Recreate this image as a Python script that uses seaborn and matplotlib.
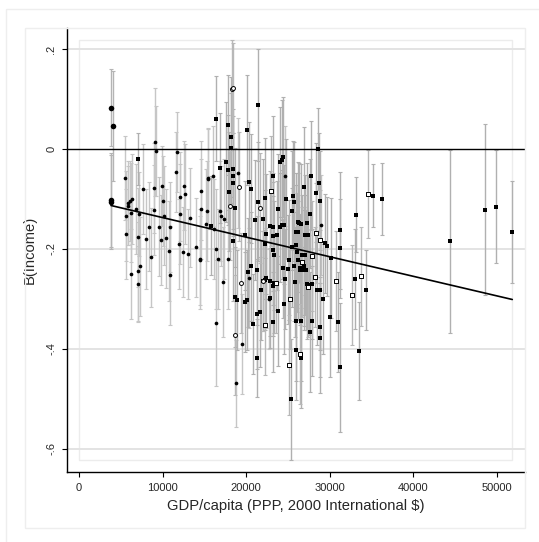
import numpy as np
import pandas as pd
import matplotlib
matplotlib.use("Agg")
import matplotlib.pyplot as plt
import matplotlib.patches as mpatches
import seaborn as sns

# small filled dots: gdp, coefficient, half-width of interval
dot_gdp = [5500, 5580, 5620, 5920, 5920, 6100, 6380, 6180, 6820, 7020, 7180, 7620, 7980, 8330,
           8930, 9130, 9170, 8970, 9570, 9850, 9930, 10090, 10200, 10440, 10920, 11560, 11760,
           12080, 12050, 11920, 12600, 12740, 12480, 13000, 13320, 14030, 14510, 14630, 14630,
           15190, 15310, 15430, 16030, 16190, 16390, 16600, 16870, 17030, 17300, 19060, 6180,
           7020, 7020, 7340, 8570, 10920, 10770, 14470, 15390, 16350, 17220, 17820, 18740,
           19530, 20370, 22760, 24640, 28950]
dot_b = [-0.057, -0.170, -0.134, -0.108, -0.113, -0.104, -0.100, -0.127, -0.120, -0.177, -0.130,
         -0.080, -0.180, -0.155, -0.122, 0.014, -0.003, -0.078, -0.155, -0.182, -0.073, -0.104,
         -0.133, -0.179, -0.156, -0.046, -0.005, -0.095, -0.130, -0.190, -0.073, -0.090, -0.206,
         -0.210, -0.137, -0.197, -0.220, -0.083, -0.120, -0.150, -0.124, -0.060, -0.053, -0.160,
         -0.200, -0.220, -0.124, -0.134, -0.140, -0.048, -0.250, -0.245, -0.270, -0.235, -0.217,
         -0.253, -0.204, -0.223, -0.057, -0.349, -0.267, -0.221, -0.469, -0.390, -0.259, -0.300,
         -0.053, -0.152]
dot_ci = [0.084, 0.090, 0.090, 0.085, 0.080, 0.080, 0.090, 0.100, 0.090, 0.100, 0.085, 0.090,
          0.100, 0.090, 0.090, 0.108, 0.090, 0.090, 0.100, 0.090, 0.080, 0.090, 0.100, 0.100,
          0.090, 0.080, 0.080, 0.090, 0.100, 0.090, 0.090, 0.100, 0.090, 0.090, 0.100, 0.100,
          0.100, 0.100, 0.100, 0.110, 0.100, 0.100, 0.100, 0.100, 0.120, 0.100, 0.100, 0.100,
          0.120, 0.110, 0.090, 0.100, 0.076, 0.100, 0.100, 0.100, 0.100, 0.090, 0.100, 0.126,
          0.110, 0.100, 0.087, 0.100, 0.100, 0.100, 0.100, 0.100]

# larger filled dots (poorest countries)
big_gdp = [3830, 4030, 3830, 3830]
big_b = [0.083, 0.046, -0.102, -0.106]
big_ci = [0.077, 0.110, 0.095, 0.095]

# filled squares
sq_gdp = [7060, 16390, 15790, 16870, 17540, 17820, 17860, 17900, 18140, 18140, 18420, 18460,
          18420, 18660, 18380, 20130, 20300, 20570, 21410, 21410, 22250, 22050, 22330, 21050,
          19820, 28590, 28750, 28790, 28350, 27710, 26910, 24440, 24240, 24000, 23170, 24720,
          25720, 25600, 25440, 23760, 26320, 27230, 27590, 27070, 27430, 29390, 29700, 30140,
          31260, 31180, 33170, 35210, 36280, 44420, 48530, 49840, 51830, 23210, 23800, 24560,
          25960, 26560, 27830, 28790, 28790, 30060, 30980, 25960, 26590, 25320, 31220, 33530,
          33050, 34290, 28830, 29220, 27230, 27830, 23170, 20220, 20770, 21250, 21650, 21250,
          21730, 22290, 18700, 18900, 19860, 20100, 20530, 21290, 22050, 22350, 23290, 22880,
          23330, 23170, 22250, 24400, 24600, 25990, 26240, 25520, 25960, 26110, 26630, 27030,
          25120, 26150, 25680, 26870, 26470, 25040, 27510, 22810, 24240, 24480, 24080, 23240,
          23680, 26200, 26560, 26440, 26910, 27150, 28430, 25880, 27630, 23210, 22810]
sq_b = [-0.020, 0.061, -0.153, -0.037, -0.026, -0.041, 0.048, -0.085, 0.025, 0.003, -0.040,
        -0.054, -0.068, -0.117, -0.185, 0.038, -0.066, -0.079, 0.088, -0.105, -0.098, -0.140,
        -0.170, -0.142, -0.173, 0.000, -0.067, -0.103, -0.087, -0.053, -0.076, -0.015, -0.021,
        -0.025, -0.053, -0.100, -0.105, -0.093, -0.123, -0.120, -0.147, -0.148, -0.129, -0.172,
        -0.172, -0.189, -0.195, -0.218, -0.163, -0.199, -0.131, -0.093, -0.100, -0.185, -0.121,
        -0.115, -0.166, -0.347, -0.325, -0.311, -0.344, -0.344, -0.345, -0.357, -0.378, -0.337,
        -0.347, -0.403, -0.419, -0.501, -0.437, -0.405, -0.260, -0.282, -0.282, -0.300, -0.270,
        -0.270, -0.275, -0.247, -0.351, -0.330, -0.326, -0.419, -0.282, -0.262, -0.297, -0.302,
        -0.306, -0.303, -0.235, -0.243, -0.265, -0.259, -0.268, -0.299, -0.213, -0.203, -0.191,
        -0.239, -0.260, -0.167, -0.167, -0.197, -0.192, -0.207, -0.212, -0.212, -0.222, -0.223,
        -0.235, -0.235, -0.242, -0.241, -0.273, -0.154, -0.151, -0.151, -0.157, -0.175, -0.173,
        -0.146, -0.149, -0.239, -0.242, -0.242, -0.283, -0.267, -0.367, -0.157, -0.264]
sq_ci = [0.052, 0.085, 0.100, 0.110, 0.120, 0.110, 0.100, 0.120, 0.120, 0.110, 0.120, 0.120,
         0.100, 0.120, 0.120, 0.110, 0.120, 0.110, 0.112, 0.120, 0.120, 0.120, 0.120, 0.120,
         0.110, 0.082, 0.100, 0.100, 0.100, 0.110, 0.120, 0.120, 0.120, 0.110, 0.120, 0.120,
         0.120, 0.110, 0.120, 0.110, 0.120, 0.120, 0.110, 0.120, 0.120, 0.100, 0.100, 0.120,
         0.118, 0.100, 0.076, 0.064, 0.072, 0.184, 0.172, 0.113, 0.103, 0.100, 0.110, 0.100,
         0.120, 0.120, 0.110, 0.100, 0.110, 0.120, 0.100, 0.100, 0.100, 0.121, 0.129, 0.098,
         0.100, 0.080, 0.120, 0.110, 0.110, 0.110, 0.100, 0.110, 0.100, 0.110, 0.110, 0.078,
         0.100, 0.100, 0.100, 0.100, 0.100, 0.100, 0.110, 0.110, 0.100, 0.100, 0.100, 0.100,
         0.110, 0.110, 0.110, 0.100, 0.100, 0.120, 0.120, 0.120, 0.120, 0.120, 0.120, 0.120,
         0.120, 0.120, 0.110, 0.120, 0.110, 0.110, 0.100, 0.110, 0.110, 0.120, 0.110, 0.110,
         0.110, 0.120, 0.120, 0.110, 0.120, 0.120, 0.110, 0.110, 0.120, 0.110, 0.110]

# hollow squares
hsq_gdp = [23000, 28350, 28790, 34530, 32620, 33730, 30700, 23600, 25280, 26440, 25160, 22250,
           27870, 28270, 26710, 27350]
hsq_b = [-0.084, -0.168, -0.182, -0.090, -0.293, -0.255, -0.265, -0.268, -0.300, -0.410,
         -0.433, -0.353, -0.214, -0.257, -0.226, -0.277]
hsq_ci = [0.110, 0.100, 0.100, 0.088, 0.100, 0.100, 0.100, 0.100, 0.100, 0.100, 0.100, 0.100,
          0.110, 0.100, 0.110, 0.100]

# small hollow circles
hc_gdp = [18360, 18420, 18030, 19100, 21660, 19340, 18620, 21970]
hc_b = [0.121, 0.123, -0.113, -0.075, -0.118, -0.269, -0.373, -0.265]
hc_ci = [0.097, 0.090, 0.110, 0.110, 0.110, 0.100, 0.120, 0.100]

# fitted line end points
fit_gdp = [3830, 51830]
fit_b = [-0.113, -0.301]

yticks = [-0.6, -0.4, -0.2, 0, 0.2]
ytick_labels = ["-.6", "-.4", "-.2", "0", ".2"]
xticks = [0, 10000, 20000, 30000, 40000, 50000]

sns.set_style("white")
plt.rcParams['font.family'] = ['Liberation Sans', 'DejaVu Sans']

fig = plt.figure(figsize=(5.39, 5.42), dpi=100)
ax = fig.add_axes([0.1243, 0.1292, 0.8497, 0.8191])

groups = [
    (dot_gdp, dot_b, dot_ci, '#c6c6c6'),
    (big_gdp, big_b, big_ci, '#b4b4b4'),
    (sq_gdp, sq_b, sq_ci, '#b0b0b0'),
    (hsq_gdp, hsq_b, hsq_ci, '#b8b8b8'),
    (hc_gdp, hc_b, hc_ci, '#b8b8b8'),
]
all_lo, all_hi, all_x = [], [], []
for gx, gb, gc, col in groups:
    gb = np.array(gb)
    gc = np.array(gc)
    ax.errorbar(gx, gb, yerr=gc, fmt='none', ecolor=col, elinewidth=1.0,
                capsize=1.6, capthick=0.8, zorder=2)
    all_lo.extend(gb - gc)
    all_hi.extend(gb + gc)
    all_x.extend(gx)

# plot region frame
x0, x1 = 0, max(all_x)
y0, y1 = min(all_lo), max(all_hi)
ax.add_patch(mpatches.Rectangle((x0, y0), x1 - x0, y1 - y0, fill=False,
                                edgecolor='#ececec', lw=1.0, zorder=0))

for yv in yticks:
    if yv != 0:
        ax.axhline(yv, color='#e3e3e3', lw=1.4, zorder=0.5)
ax.axhline(0, color='black', lw=1.0, zorder=3)

sns.scatterplot(x=dot_gdp, y=dot_b, ax=ax, marker='o', s=7, color='black',
                edgecolor='black', linewidth=0, zorder=4)
sns.scatterplot(x=big_gdp, y=big_b, ax=ax, marker='o', s=16, color='black',
                edgecolor='black', linewidth=0, zorder=4)
sns.scatterplot(x=sq_gdp, y=sq_b, ax=ax, marker='s', s=12, color='black',
                edgecolor='black', linewidth=0, zorder=4)
sns.scatterplot(x=hsq_gdp, y=hsq_b, ax=ax, marker='s', s=10, facecolor='white',
                edgecolor='black', linewidth=0.7, zorder=4)
sns.scatterplot(x=hc_gdp, y=hc_b, ax=ax, marker='o', s=8, facecolor='white',
                edgecolor='black', linewidth=0.7, zorder=4)

fit_df = pd.DataFrame({'gdp': fit_gdp, 'b': fit_b})
sns.lineplot(data=fit_df, x='gdp', y='b', ax=ax, color='black', lw=1.2, zorder=5)

ax.set_xlim(-1435, 53350)
ax.set_ylim(-0.646, 0.242)
ax.set_xticks(xticks)
ax.set_xticklabels([str(v) for v in xticks])
ax.set_yticks(yticks)
ax.set_yticklabels(ytick_labels, rotation=90, va='center')
ax.tick_params(axis='both', length=3.6, width=0.8, color='black', labelsize=8, pad=4,
               direction='out', bottom=True, left=True)
for s in ['top', 'right']:
    ax.spines[s].set_visible(False)
for s in ['left', 'bottom']:
    ax.spines[s].set_color('black')
    ax.spines[s].set_linewidth(1.0)
ax.set_xlabel('GDP/capita (PPP, 2000 International $)', fontsize=10.6, labelpad=5)
ax.set_ylabel('B(Income)', fontsize=10.6, labelpad=7)

# graph region and outer frames (figure pixel coordinates)
W, H = 539, 542
fig.patches.append(mpatches.Rectangle((25 / W, 1 - 528 / H), 500 / W, 500 / H, fill=False,
                                      edgecolor='#eeeeee', lw=1.0, transform=fig.transFigure))
fig.patches.append(mpatches.Rectangle((6 / W, -0.01), 1.02 - 6 / W, 1 - 9 / H + 0.01,
                                      fill=False, edgecolor='#eeeeee', lw=1.0,
                                      transform=fig.transFigure))

fig.savefig('out.png', dpi=100)
